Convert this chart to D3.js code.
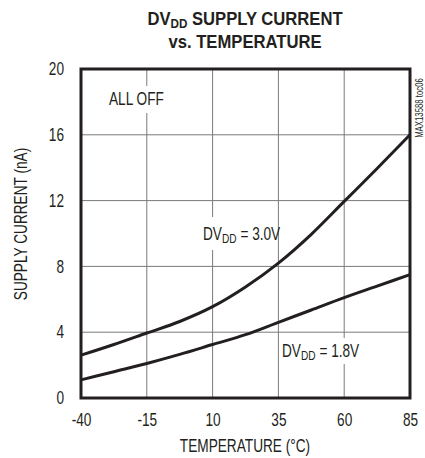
<!DOCTYPE html>
<html><head><meta charset="utf-8">
<script src="https://cdn.jsdelivr.net/npm/d3@7"></script>
<style>
body{margin:0;background:#fff;}
svg{display:block;}
text{font-family:"Liberation Sans",Arial,sans-serif;fill:#231f20;}
</style></head><body>
<svg id="c" width="425" height="458"></svg>
<script>
const temps = [-40, -27.5, -15, -2.5, 10, 22.5, 35, 47.5, 60, 72.5, 85];
const i30 = [2.6, 3.25, 3.95, 4.65, 5.55, 6.75, 8.2, 9.95, 11.95, 13.95, 16.0];
const i18 = [1.1, 1.6, 2.1, 2.65, 3.25, 3.85, 4.6, 5.35, 6.1, 6.8, 7.5];
const xTicks = [-40, -15, 10, 35, 60, 85];
const yTicks = [0, 4, 8, 12, 16, 20];

const SX = 0.78;
const FS = 17.5;
const svg = d3.select("#c");
const L = 81, R = 410, T = 69, B = 398;
const x = d3.scaleLinear().domain([-40, 85]).range([L, R]);
const y = d3.scaleLinear().domain([0, 20]).range([B, T]);

// grid
const g = svg.append("g");
g.selectAll(".vx").data(xTicks.slice(1, -1)).join("line")
  .attr("x1", d => x(d)).attr("x2", d => x(d)).attr("y1", T).attr("y2", B)
  .attr("stroke", "#7a7a7a").attr("stroke-width", 1);
g.selectAll(".hy").data(yTicks.slice(1, -1)).join("line")
  .attr("y1", d => y(d)).attr("y2", d => y(d)).attr("x1", L).attr("x2", R)
  .attr("stroke", "#7a7a7a").attr("stroke-width", 1);

// gaps in gridlines behind labels
function gap(cx, y0, y1) {
  svg.append("rect").attr("x", cx - 2).attr("y", y0).attr("width", 4).attr("height", y1 - y0).attr("fill", "#fff");
}
gap(x(-15), 86, 113);
gap(x(10), 217, 250);
gap(x(60), 338, 364);

// curves
const line = d3.line().x((d, i) => x(temps[i])).y(d => y(d)).curve(d3.curveMonotoneX);
[i30, i18].forEach(s => {
  svg.append("path").attr("d", line(s)).attr("fill", "none")
    .attr("stroke", "#231f20").attr("stroke-width", 3);
});

// frame
svg.append("rect").attr("x", L).attr("y", T).attr("width", R - L).attr("height", B - T)
  .attr("fill", "none").attr("stroke", "#231f20").attr("stroke-width", 3);

// axes
const yAxis = d3.axisLeft(y).tickValues(yTicks).tickSize(0).tickFormat(d => String(d));
const ya = svg.append("g").attr("transform", `translate(${L},0)`).call(yAxis);
ya.select(".domain").remove();
ya.selectAll("text").attr("x", 0).attr("font-size", FS).attr("fill", "#231f20")
  .attr("transform", `translate(-17,0) scale(${SX},1)`)
  .style("font-family", '"Liberation Sans",Arial,sans-serif');

const xAxis = d3.axisBottom(x).tickValues(xTicks).tickSize(0).tickPadding(16).tickFormat(d => String(d));
const xa = svg.append("g").attr("transform", `translate(0,${B})`).call(xAxis);
xa.select(".domain").remove();
xa.selectAll("text").attr("font-size", FS).attr("fill", "#231f20")
  .attr("transform", `scale(${SX},1)`)
  .style("font-family", '"Liberation Sans",Arial,sans-serif');

function ctext(tx, ty, size, anchor, sx, rot) {
  const gg = svg.append("g").attr("transform", `translate(${tx},${ty})${rot ? " rotate(" + rot + ")" : ""} scale(${sx},1)`);
  return gg.append("text").attr("text-anchor", anchor).attr("font-size", size);
}

ctext(245, 452, FS, "middle", SX).text("TEMPERATURE (°C)");
ctext(27, 224, FS, "middle", SX, -90).text("SUPPLY CURRENT (nA)");

// title
const t1 = ctext(245, 25, 18.5, "middle", 0.9).attr("font-weight", "bold");
t1.append("tspan").text("DV");
t1.append("tspan").attr("font-size", 13).attr("dy", 3).text("DD");
t1.append("tspan").attr("dy", -3).text(" SUPPLY CURRENT");
ctext(245, 48, 18.5, "middle", 0.9).attr("font-weight", "bold").text("vs. TEMPERATURE");

// annotations
ctext(109, 105, FS, "start", SX).text("ALL OFF");
function dv(xp, yp, v) {
  const t = ctext(xp, yp, FS, "start", SX);
  t.append("tspan").text("DV");
  t.append("tspan").attr("font-size", 13).attr("dy", 3).text("DD");
  t.append("tspan").attr("dy", -3).text(" = " + v);
}
dv(203, 240, "3.0V");
dv(282, 357, "1.8V");

ctext(423, 108, 10, "middle", SX, -90).text("MAX13588 toc06");
</script></body></html>
